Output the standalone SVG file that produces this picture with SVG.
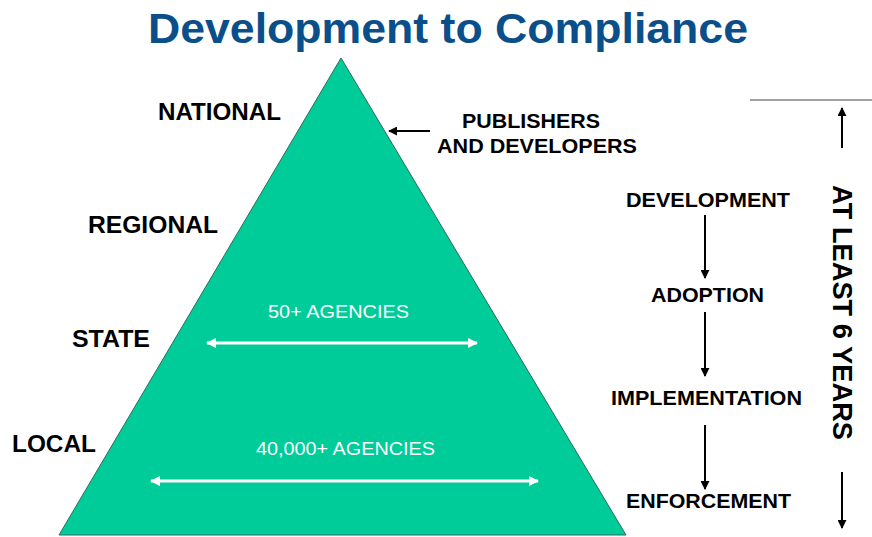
<svg xmlns="http://www.w3.org/2000/svg" width="872" height="537" viewBox="0 0 872 537">
<style>
.lbl{font-family:"Liberation Sans",Arial,sans-serif;font-weight:bold;fill:#000}
.wt{font-family:"Liberation Sans",Arial,sans-serif;fill:#fff;font-size:19px}
.blk{stroke:#000;stroke-width:2;fill:none}
.wh{stroke:#fff;stroke-width:3;fill:none}
</style>
<defs>
<marker id="ab" viewBox="0 0 10 10" refX="9" refY="5" markerWidth="4.5" markerHeight="4.5" orient="auto-start-reverse"><path d="M0,0 L10,5 L0,10 z" fill="#000"/></marker>
<marker id="aw" viewBox="0 0 10 10" refX="9" refY="5" markerWidth="3.5" markerHeight="3.5" orient="auto-start-reverse"><path d="M0,0 L10,5 L0,10 z" fill="#fff"/></marker>
</defs>
<text x="148" y="43" textLength="600" lengthAdjust="spacingAndGlyphs" font-family="'Liberation Sans',Arial,sans-serif" font-weight="bold" font-size="43" fill="#0B4F8A">Development to Compliance</text>
<g id="pyramid">
<polygon points="341,58 59,535 626,535" fill="#00CC99" stroke="#2E6B5A" stroke-width="1"/>
</g>
<g id="levels">
<text class="lbl" x="158" y="120" font-size="24" textLength="123" lengthAdjust="spacingAndGlyphs">NATIONAL</text>
<text class="lbl" x="88" y="233" font-size="24" textLength="130" lengthAdjust="spacingAndGlyphs">REGIONAL</text>
<text class="lbl" x="72" y="347" font-size="24" textLength="78" lengthAdjust="spacingAndGlyphs">STATE</text>
<text class="lbl" x="12" y="452" font-size="24" textLength="84" lengthAdjust="spacingAndGlyphs">LOCAL</text>
</g>
<g id="publishers">
<text class="lbl" x="462" y="128" font-size="20" textLength="138" lengthAdjust="spacingAndGlyphs">PUBLISHERS</text>
<text class="lbl" x="437" y="153" font-size="20" textLength="200" lengthAdjust="spacingAndGlyphs">AND DEVELOPERS</text>
</g>
<g id="state-agencies">
<text class="wt" x="268" y="318" textLength="141" lengthAdjust="spacingAndGlyphs">50+ AGENCIES</text>
</g>
<g id="local-agencies">
<text class="wt" x="256" y="455" textLength="179" lengthAdjust="spacingAndGlyphs">40,000+ AGENCIES</text>
</g>
<g id="stages">
<text class="lbl" x="626" y="207" font-size="20" textLength="164" lengthAdjust="spacingAndGlyphs">DEVELOPMENT</text>
<text class="lbl" x="651" y="302" font-size="20" textLength="113" lengthAdjust="spacingAndGlyphs">ADOPTION</text>
<text class="lbl" x="611" y="405" font-size="20" textLength="191" lengthAdjust="spacingAndGlyphs">IMPLEMENTATION</text>
<text class="lbl" x="626" y="508" font-size="20" textLength="165" lengthAdjust="spacingAndGlyphs">ENFORCEMENT</text>
</g>
<g id="duration">
<line x1="750" y1="100" x2="872" y2="100" stroke="#808080" stroke-width="1.5"/>
<text class="lbl" font-size="27" textLength="255" lengthAdjust="spacingAndGlyphs" transform="translate(833,185) rotate(90)">AT LEAST 6 YEARS</text>
</g>
<g id="connectors">
<line class="blk" x1="430" y1="131" x2="389" y2="131" marker-end="url(#ab)"/>
<line class="blk" x1="705" y1="215" x2="705" y2="278" marker-end="url(#ab)"/>
<line class="blk" x1="705" y1="312" x2="705" y2="376" marker-end="url(#ab)"/>
<line class="blk" x1="705" y1="425" x2="705" y2="489" marker-end="url(#ab)"/>
<line class="blk" x1="842" y1="148" x2="842" y2="108" marker-end="url(#ab)"/>
<line class="blk" x1="842" y1="472" x2="842" y2="528" marker-end="url(#ab)"/>
<line class="wh" x1="207" y1="343" x2="477" y2="343" marker-start="url(#aw)" marker-end="url(#aw)"/>
<line class="wh" x1="151" y1="481" x2="538" y2="481" marker-start="url(#aw)" marker-end="url(#aw)"/>
</g>
</svg>
